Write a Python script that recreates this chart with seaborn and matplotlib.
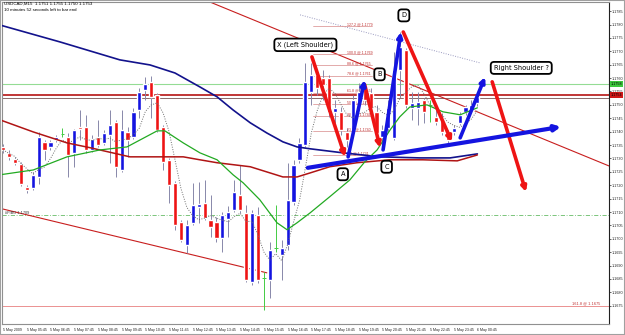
import numpy as np
import pandas as pd
import matplotlib
matplotlib.use("Agg")
import matplotlib.pyplot as plt
import seaborn as sns
from matplotlib.patches import Rectangle

# ---------------- data ----------------
symbol = "USDCAD,M15"
time_labels = ["5 May 2009", "5 May 05:45", "5 May 06:45", "5 May 07:45", "5 May 08:45",
               "5 May 09:45", "5 May 10:45", "5 May 11:45", "5 May 12:45", "5 May 13:45",
               "5 May 14:45", "5 May 15:45", "5 May 16:45", "5 May 17:45", "5 May 18:45",
               "5 May 19:45", "5 May 20:45", "5 May 21:45", "5 May 22:45", "5 May 23:45",
               "6 May 00:45"]
time_label_bars = [0, 4, 8, 12, 16, 20, 24, 28, 32, 36, 40, 44, 48, 52, 56, 60, 64, 68, 72, 76, 80]

opens = [1.17343, 1.17321, 1.17298, 1.17280, 1.17194, 1.17190, 1.17231, 1.17362, 1.17343, 1.17369,
         1.17390, 1.17381, 1.17321, 1.17418, 1.17418, 1.17332, 1.17381, 1.17358, 1.17388, 1.17437,
         1.17257, 1.17399, 1.17381, 1.17481, 1.17556, 1.17586, 1.17537, 1.17418, 1.17295, 1.17209,
         1.17063, 1.16978, 1.17060, 1.17119, 1.17134, 1.17071, 1.17063, 1.17004, 1.17075, 1.17108,
         1.17164, 1.17097, 1.16840, 1.17090, 1.16854, 1.16847, 1.16966, 1.16940, 1.16978, 1.17138,
         1.17295, 1.17351, 1.17548, 1.17612, 1.17601, 1.17601, 1.17474, 1.17474, 1.17399, 1.17407,
         1.17511, 1.17563, 1.17545, 1.17474, 1.17381, 1.17414, 1.17377, 1.17631, 1.17705, 1.17489,
         1.17489, 1.17519, 1.17500, 1.17455, 1.17444, 1.17395, 1.17399, 1.17433, 1.17474, 1.17481,
         1.17507]
highs = [1.17354, 1.17332, 1.17306, 1.17287, 1.17201, 1.17250, 1.17399, 1.17369, 1.17369, 1.17388,
         1.17414, 1.17395, 1.17410, 1.17481, 1.17463, 1.17388, 1.17444, 1.17407, 1.17481, 1.17444,
         1.17481, 1.17418, 1.17489, 1.17563, 1.17604, 1.17608, 1.17545, 1.17425, 1.17302, 1.17216,
         1.17071, 1.17071, 1.17209, 1.17213, 1.17220, 1.17164, 1.17082, 1.17101, 1.17123, 1.17220,
         1.17276, 1.17127, 1.17108, 1.17119, 1.16877, 1.16989, 1.17127, 1.16996, 1.17284, 1.17295,
         1.17377, 1.17657, 1.17657, 1.17631, 1.17631, 1.17612, 1.17519, 1.17492, 1.17414, 1.17537,
         1.17582, 1.17575, 1.17563, 1.17500, 1.17425, 1.17519, 1.17698, 1.17772, 1.17713, 1.17548,
         1.17548, 1.17526, 1.17519, 1.17481, 1.17470, 1.17407, 1.17425, 1.17474, 1.17500, 1.17519,
         1.17548]
lows = [1.17321, 1.17295, 1.17276, 1.17198, 1.17172, 1.17183, 1.17205, 1.17295, 1.17332, 1.17362,
        1.17381, 1.17231, 1.17269, 1.17369, 1.17321, 1.17325, 1.17343, 1.17351, 1.17284, 1.17231,
        1.17250, 1.17306, 1.17373, 1.17451, 1.17519, 1.17451, 1.17399, 1.17257, 1.17134, 1.17034,
        1.16989, 1.16948, 1.17052, 1.17060, 1.17071, 1.17007, 1.16989, 1.16951, 1.17007, 1.17101,
        1.17097, 1.16840, 1.16828, 1.16836, 1.16735, 1.16780, 1.16951, 1.16847, 1.16959, 1.17127,
        1.17284, 1.17343, 1.17500, 1.17537, 1.17519, 1.17455, 1.17433, 1.17388, 1.17343, 1.17388,
        1.17500, 1.17500, 1.17474, 1.17377, 1.17351, 1.17399, 1.17369, 1.17530, 1.17489, 1.17444,
        1.17425, 1.17433, 1.17437, 1.17425, 1.17388, 1.17358, 1.17388, 1.17425, 1.17463, 1.17470,
        1.17496]
closes = [1.17332, 1.17306, 1.17284, 1.17205, 1.17183, 1.17239, 1.17381, 1.17332, 1.17362, 1.17381,
          1.17390, 1.17313, 1.17407, 1.17410, 1.17332, 1.17373, 1.17351, 1.17395, 1.17425, 1.17269,
          1.17407, 1.17369, 1.17474, 1.17548, 1.17578, 1.17530, 1.17407, 1.17287, 1.17201, 1.17052,
          1.16996, 1.17052, 1.17127, 1.17131, 1.17078, 1.17045, 1.17004, 1.17090, 1.17101, 1.17175,
          1.17108, 1.16847, 1.17097, 1.16847, 1.16854, 1.16959, 1.16966, 1.16966, 1.17145, 1.17276,
          1.17358, 1.17586, 1.17612, 1.17563, 1.17575, 1.17474, 1.17489, 1.17407, 1.17369, 1.17519,
          1.17548, 1.17519, 1.17489, 1.17395, 1.17407, 1.17489, 1.17631, 1.17716, 1.17500, 1.17507,
          1.17511, 1.17474, 1.17500, 1.17437, 1.17399, 1.17369, 1.17414, 1.17463, 1.17492, 1.17500,
          1.17530]

# moving averages (bar index, price)
ma_blue_bar = [-0.5, 9.6, 19.7, 24.8, 29.0, 33.2, 36.1, 38.8, 41.7, 44.5, 47.2, 49.6, 51.8, 57.3, 63.6, 70.3, 75.4, 80.0]
ma_blue_val = [1.17798, 1.17735, 1.17668, 1.17649, 1.17619, 1.17567, 1.17530, 1.17481, 1.17433, 1.17395,
               1.17362, 1.17343, 1.17336, 1.17321, 1.17306, 1.17302, 1.17302, 1.17317]
ma_red_bar = [-0.5, 5.1, 10.8, 14.7, 21.4, 24.8, 30.4, 33.2, 36.1, 41.7, 47.2, 49.6, 51.8, 55.1, 59.7, 65.3, 70.8, 76.6, 80.0]
ma_red_val = [1.17444, 1.17399, 1.17358, 1.17340, 1.17306, 1.17306, 1.17306, 1.17295, 1.17284, 1.17269,
              1.17231, 1.17231, 1.17246, 1.17269, 1.17284, 1.17295, 1.17295, 1.17291, 1.17313]
ma_green_bar = [-0.5, 5.1, 10.8, 16.4, 20.9, 26.0, 27.3, 30.4, 33.2, 36.1, 38.8, 40.5, 43.3, 46.2, 47.9,
                49.6, 51.8, 55.1, 58.5, 61.0, 63.1, 65.3, 66.9, 68.6, 71.5, 74.2, 77.1, 80.0]
ma_green_val = [1.17239, 1.17257, 1.17306, 1.17332, 1.17343, 1.17403, 1.17403, 1.17358, 1.17321, 1.17295,
                1.17239, 1.17209, 1.17146, 1.17060, 1.17034, 1.17060, 1.17097, 1.17157, 1.17220, 1.17287,
                1.17332, 1.17407, 1.17455, 1.17492, 1.17500, 1.17474, 1.17463, 1.17489]

ask_price = 1.17578
bid_price = 1.17537
prev_line = 1.17526
fibo_dashdot = 1.17090
fib_ext_1618 = 1.16750
fib_0, fib_100 = 1.17313, 1.17690
fib_levels = [0.0, 23.6, 38.2, 50.0, 61.8, 78.6, 88.6, 100.0, 127.2]

# trend lines: (bar, price) anchors
channel_upper = [(34.9, 1.17884), (102.2, 1.17272)]
channel_lower = [(-0.17, 1.17112), (44.5, 1.16873)]
dotted_trend = [(50.1, 1.17836), (80.4, 1.17657)]

# pattern annotation arrows (start -> end)
red_arrows = [((52.1, 1.17679), (57.7, 1.17306)),
              ((61.0, 1.17575), (63.6, 1.17340)),
              ((67.5, 1.17772), (75.7, 1.17362)),
              ((82.5, 1.17586), (88.2, 1.17175))]
blue_arrows = [((58.2, 1.17306), (61.0, 1.17593)),
               ((64.1, 1.17332), (67.1, 1.17772)),
               ((77.1, 1.17377), (81.3, 1.17604))]
neckline = ((51.4, 1.17265), (94.1, 1.17418))
pattern_labels = [("X (Left Shoulder)", 51.0, 1.17724),
                  ("D", 67.6, 1.17834),
                  ("B", 63.5, 1.17614),
                  ("A", 57.3, 1.17241),
                  ("C", 64.7, 1.17269),
                  ("Right Shoulder ?", 87.4, 1.17638)]

price_ticks = [1.1675, 1.1680, 1.1685, 1.1690, 1.1695, 1.1700, 1.1705, 1.1710, 1.1715, 1.1720,
               1.1725, 1.1730, 1.1735, 1.1740, 1.1745, 1.1750, 1.1755, 1.1760, 1.1765, 1.1770,
               1.1775, 1.1780, 1.1785]

# ---------------- drawing ----------------
sns.set_style("white")
plt.rcParams['font.family'] = ['DejaVu Sans']
SMALL = ['Liberation Sans', 'DejaVu Sans']

W, H = 625, 335
fig = plt.figure(figsize=(W / 100, H / 100), dpi=100, facecolor="white")
ax = fig.add_axes([2 / W, 11 / H, 607 / W, 322 / H])
ax.set_facecolor("white")
ax.set_xlim(-0.17, 102.2)
ax.set_ylim(1.16682, 1.17884)

RED = "#ee1414"
BLUE = "#1414e0"

# horizontal lines
ax.axhline(ask_price, color="#94dc94", lw=0.8, zorder=1)
ax.axhline(bid_price, color="#b00000", lw=1.1, zorder=1)
ax.axhline(prev_line, color="#8a6a6a", lw=0.7, zorder=1)
ax.axhline(fibo_dashdot, color="#66bb66", lw=0.6, ls=(0, (5, 2, 1, 2)), zorder=1)
ax.axhline(fib_ext_1618, color="#e88080", lw=0.6, zorder=1)
ax.text(0.3, fibo_dashdot, "#FIBO 1.1709", fontsize=2.8, va="bottom", ha="left", color="#333333",
        family=SMALL)
ax.text(100.8, fib_ext_1618, "161.8 @ 1.1675", fontsize=2.8, va="bottom", ha="right", color="#c03030",
        family=SMALL)

# channel/trend lines
for (p0, p1) in [channel_upper, channel_lower]:
    ax.plot([p0[0], p1[0]], [p0[1], p1[1]], color="#c81e1e", lw=0.8, zorder=1)
ax.plot([dotted_trend[0][0], dotted_trend[1][0]], [dotted_trend[0][1], dotted_trend[1][1]],
        color="#9a9ac0", lw=0.7, ls=(0, (1, 1.5)), zorder=1)

# fibonacci retracement
for lvl in fib_levels:
    pr = fib_0 + (fib_100 - fib_0) * lvl / 100.0
    ax.plot([52.3, 62.3], [pr, pr], color="#d88888", lw=0.5, zorder=1)
    ax.text(58.0, pr, f"{lvl:.1f} @ {pr:.4f}", fontsize=2.6, va="bottom", ha="left", color="#c03030",
            family=SMALL)

# candles
idx = np.arange(len(closes))
o, h, l, c = map(np.array, (opens, highs, lows, closes))
bull, bear, doji = c > o, c < o, c == o
ax.vlines(idx[~doji], l[~doji], h[~doji], color="#8888aa", lw=0.7, zorder=2)
ax.vlines(idx[doji], l[doji], h[doji], color="#44cc44", lw=0.7, zorder=2)
ax.bar(idx[bull], (c - o)[bull], bottom=o[bull], width=0.7, color=BLUE, zorder=3)
ax.bar(idx[bear], (o - c)[bear], bottom=c[bear], width=0.7, color=RED, zorder=3)
ax.hlines(o[doji], idx[doji] - 0.3, idx[doji] + 0.3, color="#44cc44", lw=0.7, zorder=3)

# moving averages
fast = pd.Series(closes).rolling(5, min_periods=1).mean()
sns.lineplot(x=idx, y=fast.values, ax=ax, color="#707070", lw=0.7, linestyle=(0, (1, 1.5)), zorder=4, sort=False)
sns.lineplot(x=ma_blue_bar, y=ma_blue_val, ax=ax, color="#12128c", lw=1.2, zorder=4, sort=False)
sns.lineplot(x=ma_red_bar, y=ma_red_val, ax=ax, color="#b01414", lw=1.1, zorder=4, sort=False)
sns.lineplot(x=ma_green_bar, y=ma_green_val, ax=ax, color="#22aa22", lw=0.9, zorder=4, sort=False)

# pattern arrows
def arrow(p0, p1, color, lw=2.6, ms=7):
    ax.annotate("", xy=p1, xytext=p0, zorder=6,
                arrowprops=dict(arrowstyle="-|>", color=color, lw=lw,
                                shrinkA=0, shrinkB=0, mutation_scale=ms))

for p0, p1 in red_arrows:
    arrow(p0, p1, RED)
for p0, p1 in blue_arrows:
    arrow(p0, p1, BLUE)
arrow(neckline[0], neckline[1], BLUE, lw=3.0, ms=8)

for text, bx, by in pattern_labels:
    ax.text(bx, by, text, ha="center", va="center", fontsize=4.8, zorder=8, color="black",
            bbox=dict(boxstyle="round,pad=0.45,rounding_size=0.5", fc="white", ec="black", lw=1.3))

# axes styling
ax.yaxis.tick_right()
ax.set_yticks(price_ticks)
ax.set_yticklabels([f"{v:.4f}" for v in price_ticks], fontsize=2.7, family=SMALL)
ax.tick_params(axis="y", length=1.5, width=0.5, pad=0.6, colors="#222222")
ax.set_xticks(time_label_bars)
ax.set_xticklabels(time_labels, fontsize=2.6, family=SMALL)
for lab in ax.get_xticklabels():
    lab.set_ha("left")
ax.tick_params(axis="x", length=2.5, width=0.5, pad=0.5, colors="#222222")
for side in ["left", "top", "bottom"]:
    ax.spines[side].set_color("#909090")
    ax.spines[side].set_linewidth(0.8)
ax.spines["right"].set_color("#202020")
ax.spines["right"].set_linewidth(0.8)
ax.set_xlabel("")
ax.set_ylabel("")

# price labels on the axis
tr = ax.get_yaxis_transform()
ax.text(1.003, ask_price, f"{ask_price:.4f}", transform=tr, fontsize=2.7, va="center", ha="left",
        family=SMALL, color="black", bbox=dict(boxstyle="square,pad=0.15", fc="#3cc83c", ec="none"),
        clip_on=False)
ax.text(1.003, bid_price, f"{bid_price:.4f}", transform=tr, fontsize=2.7, va="center", ha="left",
        family=SMALL, color="black", bbox=dict(boxstyle="square,pad=0.15", fc="#d01818", ec="none"),
        clip_on=False)

# info text
fig.text(4 / W, 1 - 2 / H, f"{symbol}  {opens[-1]:.4f} {highs[-1]:.4f} {lows[-1]:.4f} {closes[-1]:.4f}",
         fontsize=3.2, va="top", ha="left", color="black", family=SMALL)
fig.text(4 / W, 1 - 8 / H, "10 minutes 52 seconds left to bar end", fontsize=3.2, va="top", ha="left",
         color="black", family=SMALL)

fig.patches.append(Rectangle((0, 0), 1, 1, transform=fig.transFigure, fill=False, ec="#a0a0a0", lw=1.5))

fig.savefig("out.png", dpi=100, facecolor="white")
